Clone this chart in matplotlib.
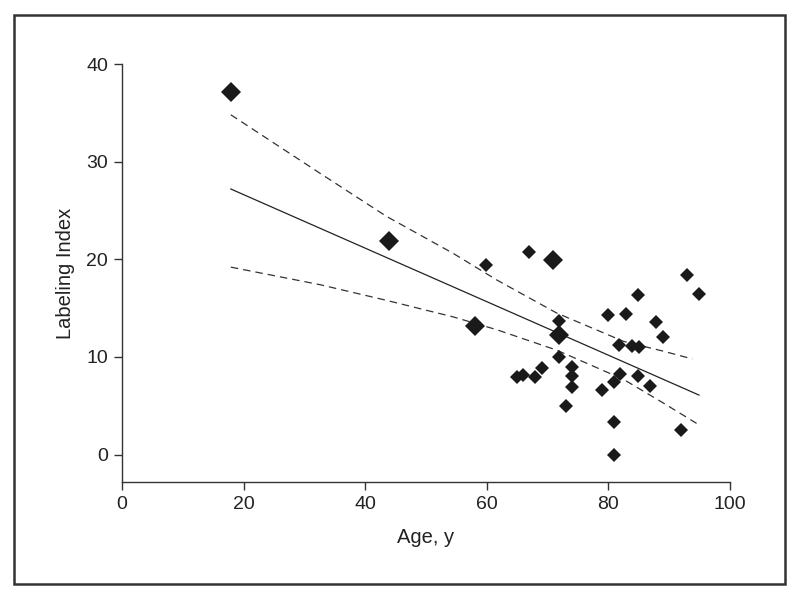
import matplotlib
matplotlib.use("Agg")
import matplotlib.pyplot as plt
from matplotlib.patches import Rectangle

plt.rcParams['font.family'] = ['Liberation Sans', 'DejaVu Sans']

# single patients
age = [59.9, 66.9, 80.0, 82.9, 84.9, 87.8, 88.9, 93.0, 94.9,
       71.9, 81.8, 83.8, 85.0, 71.9, 64.9, 65.9, 67.9, 69.0,
       74.0, 74.0, 74.0, 73.0, 81.9, 80.9, 78.9, 84.8, 86.9,
       80.9, 80.9, 91.9]
labeling = [19.4, 20.7, 14.3, 14.4, 16.3, 13.6, 12.0, 18.4, 16.5,
            13.7, 11.2, 11.1, 11.0, 10.0, 8.0, 8.2, 7.9, 8.9,
            9.0, 8.1, 6.9, 5.0, 8.3, 7.4, 6.6, 8.1, 7.0,
            3.3, 0.0, 2.5]

# overlapping patients (drawn bigger)
age_multi = [17.9, 43.9, 70.9, 58.1, 71.9]
labeling_multi = [37.1, 21.9, 19.9, 13.2, 12.2]

# regression line and 95% confidence band
fit_x = [17.9, 94.9]
fit_y = [27.2, 6.1]
band_x = [17.9, 32.6, 43.5, 54.5, 61.6, 71.5, 82.5, 89.0, 93.8]
band_hi = [34.8, 28.8, 24.4, 20.6, 17.9, 14.5, 11.6, 10.6, 9.8]
band_x_lo = [17.9, 32.6, 43.5, 54.5, 61.6, 71.5, 82.5, 89.0, 94.5]
band_lo = [19.2, 17.4, 15.8, 14.1, 12.8, 10.7, 7.7, 5.3, 3.2]

fig = plt.figure(figsize=(8, 6), dpi=100)
ax = fig.add_axes([0.1525, 0.1967, 0.76, 0.6966])

ax.plot(fit_x, fit_y, color='#222222', lw=0.9)
ax.plot(band_x, band_hi, color='#333333', lw=0.9, ls=(0, (6, 4)))
ax.plot(band_x_lo, band_lo, color='#333333', lw=0.9, ls=(0, (6, 4)))

ax.plot(age, labeling, 'D', color='#1a1a1a', ms=7.6, mew=0, ls='none')
ax.plot(age_multi, labeling_multi, 'D', color='#1a1a1a', ms=9.8, mew=0, ls='none')

ax.set_xlim(0, 100)
ax.set_ylim(-2.8, 40)
ax.set_xticks([0, 20, 40, 60, 80, 100])
ax.set_yticks([0, 10, 20, 30, 40])
ax.spines['top'].set_visible(False)
ax.spines['right'].set_visible(False)
ax.spines['left'].set_bounds(-2.8, 40)
for s in ['left', 'bottom']:
    ax.spines[s].set_color('#333333')
    ax.spines[s].set_linewidth(1.0)
ax.tick_params(direction='out', length=6, width=1, color='#333333',
               labelsize=14, labelcolor='#222222', pad=4)
ax.set_xlabel('Age, y', fontsize=14.5, color='#222222', labelpad=11)
ax.set_ylabel('Labeling Index', fontsize=14.5, color='#222222', labelpad=8)

# outer frame
fig.patches.append(Rectangle((0.0175, 0.0267), 0.964, 0.948, transform=fig.transFigure,
                             fill=False, lw=1.8, ec='#333333'))

fig.savefig('out.png', dpi=100)
